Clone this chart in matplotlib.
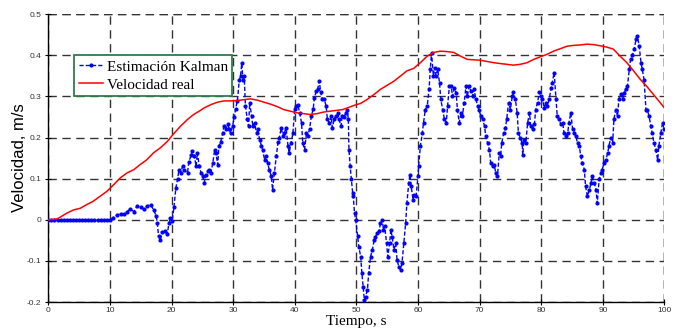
import matplotlib
matplotlib.use("Agg")
import matplotlib.pyplot as plt
import numpy as np

# ---- data: Kalman estimate ----
kal_t = [0, 0.5, 1, 1.5, 2, 2.5, 3, 3.5, 4, 4.5, 5, 5.5, 6, 6.5, 7, 7.5, 8, 8.5, 9, 9.5, 10,
         10.5, 11.2, 11.8, 12.3, 12.8, 13.3, 13.9, 14.4, 15.0, 15.5, 16.0, 16.6, 17.1, 17.5, 17.7, 17.9,
         18.2, 18.5, 18.9, 19.3, 19.6, 19.8, 20.1, 20.4, 20.7, 21.0, 21.2, 21.5, 21.8, 22.1, 22.6, 22.8,
         23.2, 23.4, 23.7, 24.0, 24.2, 24.5, 24.8, 25.1, 25.3, 25.6, 25.9, 26.1, 26.4, 26.7, 27.0, 27.2,
         27.5, 27.7, 28.0, 28.3, 28.5, 28.8, 29.1, 29.4, 29.6, 29.9, 30.2, 30.4, 30.7, 31.0, 31.2, 31.4,
         31.6, 31.8, 32.0, 32.3, 32.5, 32.7, 33.0, 33.2, 33.5, 33.8, 34.0, 34.3, 34.6, 34.8, 35.1, 35.4,
         35.6, 35.9, 36.2, 36.4, 36.7, 37.0, 37.3, 37.5, 37.8, 38.1, 38.3, 38.6, 38.9, 39.1, 39.4, 39.7,
         40.0, 40.2, 40.5, 40.8, 41.1, 41.3, 41.6, 41.9, 42.1, 42.4, 42.7, 43.0, 43.2, 43.5, 43.7, 44.0,
         44.2, 44.5, 44.8, 45.1, 45.3, 45.6, 45.9, 46.1, 46.4, 46.7, 47.0, 47.2, 47.5, 47.7, 48.0, 48.3,
         48.5, 48.7, 48.8, 49.0, 49.2, 49.4, 49.5, 49.7, 49.9, 50.2, 50.4, 50.7, 50.9, 51.1, 51.3, 51.5,
         51.8, 52.0, 52.3, 52.6, 52.9, 53.1, 53.4, 53.7, 53.9, 54.2, 54.4, 54.6, 54.9, 55.1, 55.4, 55.6,
         55.8, 56.1, 56.4, 56.6, 56.9, 57.2, 57.4, 57.7, 58.0, 58.2, 58.5, 58.7, 58.9, 59.2, 59.4, 59.7,
         60.0, 60.1, 60.4, 60.7, 60.9, 61.2, 61.5, 61.8, 62.0, 62.2, 62.5, 62.7, 62.9, 63.2, 63.5, 63.7,
         64.0, 64.3, 64.6, 64.8, 65.1, 65.4, 65.6, 65.9, 66.2, 66.4, 66.7, 67.0, 67.2, 67.5, 67.8, 68.0,
         68.3, 68.6, 68.9, 69.1, 69.4, 69.7, 69.9, 70.2, 70.5, 70.8, 71.0, 71.3, 71.6, 71.8, 72.1, 72.4,
         72.6, 72.9, 73.2, 73.4, 73.6, 73.9, 74.2, 74.4, 74.7, 75.0, 75.3, 75.5, 75.8, 76.1, 76.3, 76.6,
         76.9, 77.0, 77.2, 77.5, 77.8, 78.1, 78.3, 78.6, 78.9, 79.1, 79.4, 79.7, 79.9, 80.2, 80.5, 80.8,
         81.0, 81.3, 81.6, 81.8, 82.1, 82.4, 82.6, 82.9, 83.2, 83.5, 83.7, 84.0, 84.3, 84.5, 84.8, 85.1,
         85.4, 85.6, 85.9, 86.2, 86.4, 86.7, 87.0, 87.2, 87.5, 87.8, 88.1, 88.3, 88.6, 88.9, 89.1, 89.4,
         89.7, 89.9, 90.2, 90.5, 90.8, 91.0, 91.3, 91.6, 91.8, 92.1, 92.4, 92.6, 92.9, 93.2, 93.5, 93.7,
         94.0, 94.3, 94.5, 94.8, 95.1, 95.4, 95.6, 95.9, 96.2, 96.4, 96.7, 97.0, 97.2, 97.5, 97.8, 98.0,
         98.3, 98.6, 98.9, 99.1, 99.4, 99.7, 100.0]
kal_v = [0, 0, 0, 0, 0, 0, 0, 0, 0, 0, 0, 0, 0, 0, 0, 0, 0, 0, 0, 0, 0,
         0.005, 0.012, 0.015, 0.014, 0.02, 0.026, 0.02, 0.033, 0.03, 0.026, 0.033, 0.037, 0.024, 0.01, -0.008, -0.04,
         -0.05, -0.03, -0.027, -0.035, -0.008, 0.005, -0.004, 0.03, 0.077, 0.1, 0.12, 0.114, 0.13, 0.12, 0.114, 0.14,
         0.158, 0.167, 0.155, 0.13, 0.163, 0.13, 0.114, 0.106, 0.089, 0.11, 0.118, 0.122, 0.114, 0.138, 0.17, 0.163,
         0.134, 0.18, 0.19, 0.21, 0.228, 0.22, 0.232, 0.22, 0.21, 0.228, 0.25, 0.27, 0.29, 0.34, 0.35, 0.38,
         0.34, 0.35, 0.276, 0.244, 0.228, 0.285, 0.252, 0.228, 0.236, 0.21, 0.22, 0.195, 0.18, 0.17, 0.146, 0.154,
         0.138, 0.12, 0.106, 0.073, 0.114, 0.154, 0.19, 0.2, 0.223, 0.203, 0.211, 0.224, 0.18, 0.163, 0.187, 0.21,
         0.27, 0.276, 0.28, 0.26, 0.236, 0.187, 0.17, 0.211, 0.203, 0.22, 0.252, 0.27, 0.297, 0.313, 0.317, 0.337,
         0.31, 0.293, 0.293, 0.276, 0.244, 0.236, 0.252, 0.224, 0.244, 0.252, 0.26, 0.244, 0.228, 0.252, 0.25, 0.26,
         0.268, 0.245, 0.17, 0.13, 0.098, 0.065, 0.057, 0.016, 0.0, -0.04, -0.065, -0.09, -0.13, -0.163, -0.195, -0.187,
         -0.17, -0.13, -0.09, -0.073, -0.049, -0.041, -0.033, -0.028, -0.008, 0.0, -0.024, -0.016, -0.057, -0.09, -0.057, -0.024,
         -0.041, -0.073, -0.057, -0.098, -0.114, -0.122, -0.106, -0.057, -0.008, 0.04, 0.089, 0.11, 0.081, 0.049, 0.061, 0.057,
         0.106, 0.13, 0.18, 0.21, 0.236, 0.268, 0.276, 0.317, 0.366, 0.406, 0.35, 0.37, 0.35, 0.366, 0.333, 0.293,
         0.268, 0.244, 0.236, 0.276, 0.325, 0.325, 0.3, 0.32, 0.309, 0.268, 0.236, 0.26, 0.252, 0.285, 0.325, 0.3,
         0.325, 0.313, 0.3, 0.317, 0.293, 0.276, 0.268, 0.252, 0.244, 0.228, 0.203, 0.187, 0.17, 0.138, 0.13, 0.134,
         0.114, 0.106, 0.163, 0.155, 0.187, 0.21, 0.224, 0.244, 0.285, 0.268, 0.3, 0.31, 0.293, 0.26, 0.21, 0.2,
         0.187, 0.158, 0.195, 0.187, 0.236, 0.26, 0.228, 0.22, 0.232, 0.268, 0.285, 0.31, 0.3, 0.293, 0.272, 0.285,
         0.276, 0.293, 0.32, 0.333, 0.358, 0.293, 0.252, 0.244, 0.232, 0.236, 0.21, 0.203, 0.211, 0.236, 0.26, 0.22,
         0.211, 0.203, 0.187, 0.179, 0.155, 0.138, 0.122, 0.081, 0.057, 0.073, 0.089, 0.106, 0.089, 0.073, 0.04, 0.098,
         0.114, 0.122, 0.138, 0.146, 0.163, 0.18, 0.2, 0.187, 0.244, 0.268, 0.252, 0.293, 0.305, 0.293, 0.309, 0.317,
         0.325, 0.366, 0.39, 0.4, 0.415, 0.44, 0.447, 0.423, 0.382, 0.366, 0.34, 0.268, 0.268, 0.252, 0.228, 0.211,
         0.187, 0.17, 0.146, 0.18, 0.21, 0.236, 0.22]

# ---- data: real velocity ----
real_t = [0, 1.4, 1.9, 3, 4.1, 5.2, 6.25, 7.3, 8.4, 9.5, 10.6, 11.7, 12.8, 13.9, 14.9, 16, 17.1, 18.2,
          19.3, 20.4, 21.5, 22.6, 23.6, 24.7, 25.3, 26.4, 27.5, 28.5, 29.6, 30.7, 31.8, 32.8, 33.9, 35,
          36.1, 37.2, 38.2, 39.3, 40.4, 41.5, 42.5, 43.6, 44.7, 45.7, 46.8, 47.8, 48.9, 49.6, 50.7, 51.8,
          52.9, 53.9, 55, 56.1, 57.2, 58.2, 59.3, 60.4, 61.5, 62.6, 63.6, 64.7, 65.8, 66.9, 68, 69, 70.1,
          71.2, 72.3, 73.3, 74.4, 75.5, 76.6, 77.7, 78.8, 79.8, 80.9, 82, 83.1, 84.2, 85.2, 86.3, 87.4,
          88.5, 89.6, 90.6, 91.7, 92.8, 93.9, 95, 96.1, 97.1, 98.2, 99.3, 100]
real_v = [0, 0.002, 0.006, 0.016, 0.024, 0.028, 0.037, 0.045, 0.057, 0.069, 0.085, 0.102, 0.114, 0.122,
          0.134, 0.146, 0.163, 0.175, 0.19, 0.21, 0.228, 0.244, 0.256, 0.266, 0.272, 0.28, 0.286, 0.289,
          0.289, 0.29, 0.292, 0.294, 0.291, 0.286, 0.281, 0.275, 0.268, 0.264, 0.26, 0.258, 0.256, 0.258,
          0.262, 0.264, 0.266, 0.268, 0.274, 0.278, 0.283, 0.293, 0.305, 0.317, 0.327, 0.337, 0.35, 0.362,
          0.368, 0.382, 0.398, 0.407, 0.41, 0.409, 0.407, 0.398, 0.39, 0.389, 0.388, 0.385, 0.382, 0.38,
          0.378, 0.376, 0.378, 0.382, 0.39, 0.396, 0.402, 0.41, 0.416, 0.422, 0.424, 0.425, 0.427, 0.426,
          0.423, 0.42, 0.415, 0.398, 0.382, 0.362, 0.341, 0.325, 0.305, 0.285, 0.272]

x_ticks = [0, 10, 20, 30, 40, 50, 60, 70, 80, 90, 100]
y_ticks = [-0.2, -0.1, 0, 0.1, 0.2, 0.3, 0.4, 0.5]
y_tick_labels = ["-0.2", "-0.1", "0", "0.1", "0.2", "0.3", "0.4", "0.5"]

fig = plt.figure(figsize=(6.78, 3.29), dpi=100)
ax = fig.add_axes([0.0712, 0.082, 0.9088, 0.875])

ax.set_xlim(0, 100)
ax.set_ylim(-0.2, 0.5)
ax.set_xticks(x_ticks)
ax.set_yticks(y_ticks)
ax.set_xticklabels([str(v) for v in x_ticks])
ax.set_yticklabels(y_tick_labels)

grid_style = dict(color="0.2", linestyle=(0, (6, 4)), linewidth=1.0)
ax.grid(True, **grid_style)
ax.set_axisbelow(True)
ax.axhline(0.5, zorder=0.5, **grid_style)
ax.axvline(100, zorder=0.5, **grid_style)

ax.plot(kal_t, kal_v, color="#0000ff", linestyle=(0, (3, 1.5)), linewidth=1.0,
        marker=".", markersize=4, label="Estimación Kalman", zorder=3)
ax.plot(real_t, real_v, color="#ff0000", linewidth=1.1, label="Velocidad real", zorder=4)

for s in ["top", "right"]:
    ax.spines[s].set_visible(False)
ax.spines["left"].set_linewidth(1.0)
ax.spines["bottom"].set_linewidth(1.0)

ax.tick_params(direction="inout", length=4, labelsize=6, colors="black")
ax.tick_params(axis="x", pad=1.5)
ax.tick_params(axis="y", pad=3)
for lab in ax.get_xticklabels() + ax.get_yticklabels():
    lab.set_fontfamily("Liberation Sans")
    lab.set_color("#333333")

ax.set_ylabel("Velocidad, m/s", fontfamily="Liberation Sans", fontsize=12, labelpad=0)
ax.set_xlabel("Tiempo, s", fontfamily="Liberation Serif", fontsize=11)
ax.xaxis.set_label_coords(0.5, -0.046)

leg = ax.legend(loc="upper left", bbox_to_anchor=(0.0425, 0.857), frameon=True, fancybox=False,
                prop={"family": "Liberation Serif", "size": 11}, handlelength=1.6,
                handletextpad=0.2, borderpad=0.3, labelspacing=0.28, borderaxespad=0)
leg.get_frame().set_edgecolor("#2e7d4f")
leg.get_frame().set_linewidth(1.3)
leg.get_frame().set_alpha(1)

fig.savefig("out.png", dpi=100)
